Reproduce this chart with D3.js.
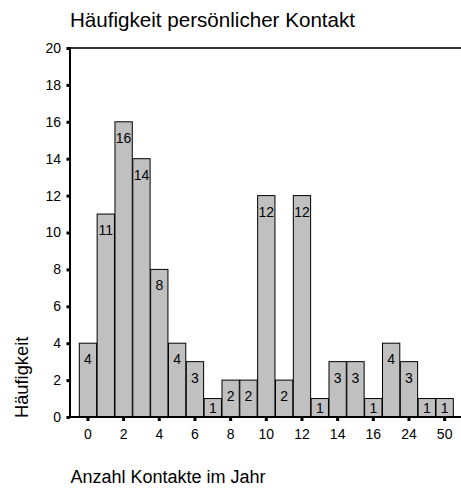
<!DOCTYPE html>
<html>
<head>
<meta charset="utf-8">
<script src="https://cdn.jsdelivr.net/npm/d3@7"></script>
<style>
  html, body { margin: 0; padding: 0; background: #fff; }
  svg { display: block; font-family: "Liberation Sans", Arial, sans-serif; }
</style>
</head>
<body>
<svg id="chart" width="461" height="490"></svg>
<script>
// Number of personal contacts per year and how often each occurred
const categories = ["0","1","2","3","4","5","6","7","8","9","10","11","12","13","14","15","16","20","24","30","50"];
const counts     = [4, 11, 16, 14, 8, 4, 3, 1, 2, 2, 12, 2, 12, 1, 3, 3, 1, 4, 3, 1, 1];
const yTicks     = [0, 2, 4, 6, 8, 10, 12, 14, 16, 18, 20];
const xTickLabels = ["0","2","4","6","8","10","12","14","16","24","50"];

const svg = d3.select("#chart");
const plotLeft = 70, plotRight = 461, plotTop = 48, plotBottom = 417;

const x = d3.scaleBand()
  .domain(categories)
  .range([79.3, 453.3])
  .paddingInner(0.03);

const y = d3.scaleLinear()
  .domain([0, 20])
  .range([plotBottom, plotTop]);

// Title
svg.append("text")
  .attr("x", 70).attr("y", 26.5)
  .attr("font-size", 20.6)
  .attr("fill", "#000")
  .text("Häufigkeit persönlicher Kontakt");

// Frame: top line
svg.append("line")
  .attr("x1", plotLeft).attr("x2", plotRight)
  .attr("y1", plotTop).attr("y2", plotTop)
  .attr("stroke", "#333").attr("stroke-width", 2);

// Bars
svg.append("g").selectAll("rect")
  .data(counts)
  .join("rect")
  .attr("x", (d, i) => x(categories[i]))
  .attr("y", d => y(d))
  .attr("width", x.bandwidth())
  .attr("height", d => y(0) - y(d))
  .attr("fill", "#c0c0c0")
  .attr("stroke", "#000")
  .attr("stroke-width", 1);

// Value labels inside bars
svg.append("g").selectAll("text")
  .data(counts)
  .join("text")
  .attr("x", (d, i) => x(categories[i]) + x.bandwidth() / 2)
  .attr("y", d => y(d) + Math.min(16, (y(0) - y(d)) / 2 + 0.5))
  .attr("text-anchor", "middle")
  .attr("dominant-baseline", "central")
  .attr("font-size", 14)
  .attr("fill", "#000")
  .text(d => d);

// Y axis
const yAxis = d3.axisLeft(y)
  .tickValues(yTicks)
  .tickSize(0)
  .tickPadding(9);
const gy = svg.append("g")
  .attr("transform", `translate(${plotLeft},0)`)
  .call(yAxis);
gy.select(".domain").remove();
gy.selectAll("text").attr("font-size", 14).attr("font-family", null).attr("fill", "#000");
gy.selectAll(".tick").append("rect")
  .attr("x", -3.5).attr("y", -1.5).attr("width", 3.5).attr("height", 3).attr("fill", "#000");
svg.append("line")
  .attr("x1", plotLeft).attr("x2", plotLeft)
  .attr("y1", plotTop - 1).attr("y2", plotBottom + 1)
  .attr("stroke", "#000").attr("stroke-width", 2);

// X axis with labels on every second category
const xAxis = d3.axisBottom(x)
  .tickValues(xTickLabels)
  .tickSize(0)
  .tickPadding(12);
const gx = svg.append("g")
  .attr("transform", `translate(0,${plotBottom})`)
  .call(xAxis);
gx.select(".domain").remove();
gx.selectAll("text").attr("font-size", 14).attr("font-family", null).attr("fill", "#000");
gx.selectAll(".tick").append("rect")
  .attr("x", -1.5).attr("y", 0).attr("width", 3).attr("height", 4).attr("fill", "#000");
svg.append("line")
  .attr("x1", plotLeft - 1).attr("x2", plotRight)
  .attr("y1", plotBottom).attr("y2", plotBottom)
  .attr("stroke", "#000").attr("stroke-width", 2);

// Axis titles
svg.append("text")
  .attr("transform", `translate(28,418) rotate(-90)`)
  .attr("font-size", 18.3)
  .attr("fill", "#000")
  .text("Häufigkeit");

svg.append("text")
  .attr("x", 70.5).attr("y", 483)
  .attr("font-size", 18)
  .attr("fill", "#000")
  .text("Anzahl Kontakte im Jahr");
</script>
</body>
</html>
